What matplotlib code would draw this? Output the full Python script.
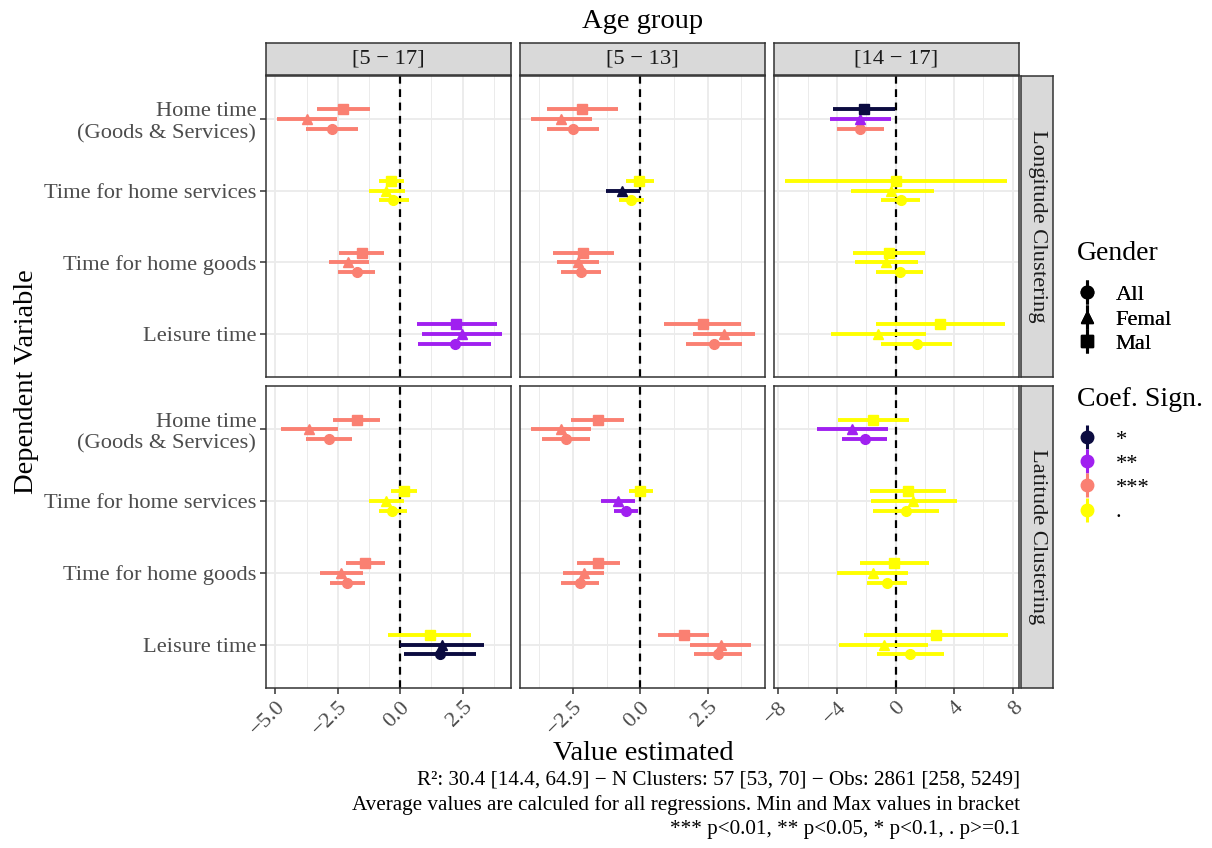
import matplotlib
matplotlib.use("Agg")
import matplotlib.pyplot as plt
from matplotlib.lines import Line2D

plt.rcParams["font.family"] = ["Liberation Serif", "DejaVu Serif"]

# categories, top to bottom as shown
categories = ["Home time\n(Goods & Services)", "Time for home services",
              "Time for home goods", "Leisure time"]
genders = ["All", "Femal", "Mal"]
age_groups = ["[5 \u2212 17]", "[5 \u2212 13]", "[14 \u2212 17]"]
clusterings = ["Longitude Clustering", "Latitude Clustering"]
sig_levels = ["*", "**", "***", "."]
sig_colors = {"*": "#0b0b40", "**": "#A020F0", "***": "#FA8072", ".": "#FFFF00"}
gender_markers = {"All": "o", "Femal": "^", "Mal": "s"}

# values per panel: rows = gender (All, Femal, Mal), columns = category
lon_5_17_est = [[-2.74, -0.27, -1.75, 2.18], [-3.75, -0.56, -2.09, 2.46], [-2.29, -0.37, -1.55, 2.25]]
lon_5_17_lo = [[-3.78, -0.87, -2.48, 0.71], [-4.95, -1.26, -2.85, 0.87], [-3.32, -0.87, -2.45, 0.66]]
lon_5_17_hi = [[-1.69, 0.35, -1.00, 3.64], [-2.54, 0.21, -1.24, 4.07], [-1.23, 0.17, -0.64, 3.88]]
lon_5_17_sig = [["***", ".", "***", "**"], ["***", ".", "***", "**"], ["***", ".", "***", "**"]]

lon_5_13_est = [[-2.50, -0.33, -2.21, 2.75], [-2.95, -0.68, -2.31, 3.10], [-2.15, -0.04, -2.12, 2.31]]
lon_5_13_lo = [[-3.46, -0.79, -2.96, 1.70], [-4.07, -1.26, -3.11, 1.95], [-3.48, -0.54, -3.25, 0.88]]
lon_5_13_hi = [[-1.52, 0.15, -1.47, 3.78], [-1.79, 0.00, -1.52, 4.26], [-0.83, 0.49, -0.98, 3.74]]
lon_5_13_sig = [["***", ".", "***", "***"], ["***", "*", "***", "***"], ["***", ".", "***", "***"]]

lon_14_17_est = [[-2.40, 0.36, 0.29, 1.47], [-2.45, -0.32, -0.68, -1.20], [-2.15, 0.00, -0.48, 3.06]]
lon_14_17_lo = [[-3.99, -1.00, -1.31, -0.98], [-4.49, -3.04, -2.77, -4.44], [-4.26, -7.55, -2.90, -1.34]]
lon_14_17_hi = [[-0.77, 1.70, 1.88, 3.88], [-0.32, 2.61, 1.50, 2.09], [-0.02, 7.64, 2.02, 7.46]]
lon_14_17_sig = [["***", ".", ".", "."], ["**", ".", ".", "."], ["*", ".", ".", "."]]

lat_5_17_est = [[-2.85, -0.31, -2.12, 1.61], [-3.64, -0.56, -2.37, 1.67], [-1.74, 0.16, -1.41, 1.18]]
lat_5_17_lo = [[-3.78, -0.86, -2.80, 0.16], [-4.79, -1.26, -3.21, 0.00], [-2.68, -0.37, -2.16, -0.48]]
lat_5_17_hi = [[-1.94, 0.27, -1.41, 3.05], [-2.48, 0.17, -1.50, 3.36], [-0.83, 0.67, -0.63, 2.84]]
lat_5_17_sig = [["***", ".", "***", "*"], ["***", ".", "***", "*"], ["***", ".", "***", "."]]

lat_5_13_est = [[-2.78, -0.52, -2.24, 2.88], [-2.95, -0.84, -2.11, 3.00], [-1.57, 0.00, -1.56, 1.62]]
lat_5_13_lo = [[-3.64, -0.98, -2.94, 1.99], [-4.06, -1.47, -2.87, 1.86], [-2.56, -0.43, -2.36, 0.65]]
lat_5_13_hi = [[-1.88, -0.07, -1.54, 3.78], [-1.84, -0.19, -1.35, 4.11], [-0.62, 0.46, -0.74, 2.56]]
lat_5_13_sig = [["***", "**", "***", "***"], ["***", "**", "***", "***"], ["***", ".", "***", "***"]]

lat_14_17_est = [[-2.09, 0.70, -0.59, 1.02], [-2.95, 1.22, -1.54, -0.80], [-1.52, 0.86, -0.09, 2.77]]
lat_14_17_lo = [[-3.63, -1.52, -1.95, -1.29], [-5.33, -1.68, -3.99, -3.83], [-3.92, -1.77, -2.40, -2.15]]
lat_14_17_hi = [[-0.59, 2.97, 0.79, 3.29], [-0.54, 4.20, 0.86, 2.22], [0.91, 3.47, 2.29, 7.71]]
lat_14_17_sig = [["**", ".", ".", "."], ["**", ".", ".", "."], [".", ".", ".", "."]]

panels = [
    [(lon_5_17_est, lon_5_17_lo, lon_5_17_hi, lon_5_17_sig),
     (lon_5_13_est, lon_5_13_lo, lon_5_13_hi, lon_5_13_sig),
     (lon_14_17_est, lon_14_17_lo, lon_14_17_hi, lon_14_17_sig)],
    [(lat_5_17_est, lat_5_17_lo, lat_5_17_hi, lat_5_17_sig),
     (lat_5_13_est, lat_5_13_lo, lat_5_13_hi, lat_5_13_sig),
     (lat_14_17_est, lat_14_17_lo, lat_14_17_hi, lat_14_17_sig)],
]

xlims = [(-5.38, 4.44), (-4.47, 4.63), (-8.3, 8.43)]
xticks = [[-5, -2.5, 0, 2.5], [-2.5, 0, 2.5], [-8, -4, 0, 4, 8]]
xminor = [[-3.75, -1.25, 1.25, 3.75], [-3.75, -1.25, 1.25, 3.75], [-6, -2, 2, 6]]
xfmt = ["{:.1f}", "{:.1f}", "{:.0f}"]

caption = ("R\u00b2: 30.4 [14.4, 64.9] \u2212 N Clusters: 57 [53, 70] \u2212 Obs: 2861 [258, 5249]\n"
           "Average values are calculed for all regressions. Min and Max values in bracket\n"
           "*** p<0.01, ** p<0.05, * p<0.1, . p>=0.1")

W, H = 1212, 848
fig = plt.figure(figsize=(W / 100, H / 100), dpi=100)

def fx(px):
    return px / W

def fy(py):
    return 1 - py / H

col_x = [266, 520, 774]
col_w = 245
row_y = [(76, 377), (386, 688)]
grey20 = "#333333"
grey30 = "#4D4D4D"
dodge = 0.133
fs = 16.2

ypos = [4, 3, 2, 1]
for r in range(2):
    for c in range(3):
        top, bot = row_y[r]
        ax = fig.add_axes([fx(col_x[c]), fy(bot), fx(col_w), (bot - top) / H])
        ax.set_xlim(*xlims[c])
        ax.set_ylim(0.4, 4.6)
        ax.set_xticks(xticks[c])
        ax.set_xticks(xminor[c], minor=True)
        ax.set_yticks(ypos)
        ax.grid(True, which="major", color="#EBEBEB", lw=1.3)
        ax.grid(True, which="minor", axis="x", color="#EBEBEB", lw=0.7)
        ax.set_axisbelow(True)
        for s in ax.spines.values():
            s.set_color(grey20)
            s.set_linewidth(1.1)
        ax.tick_params(which="minor", length=0)
        ax.tick_params(which="major", length=4, width=1.1, color=grey20,
                       labelcolor=grey30, labelsize=fs, pad=3)
        if c == 0:
            ax.set_yticklabels(categories)
        else:
            ax.tick_params(axis="y", length=0, labelleft=False)
        if r == 1:
            labs = [xfmt[c].format(v).replace("-", "\u2212") for v in xticks[c]]
            ax.set_xticklabels(labs, rotation=45, ha="right", rotation_mode="anchor")
        else:
            ax.tick_params(axis="x", length=0, labelbottom=False)

        ax.axvline(0, color="black", lw=1.6, ls=(0, (3.5, 2.5)), zorder=1)

        est, lo, hi, sig = panels[r][c]
        for g, gname in enumerate(genders):
            off = (g - 1) * dodge
            for k in range(len(categories)):
                col = sig_colors[sig[g][k]]
                yy = ypos[k] + off
                ax.hlines(yy, lo[g][k], hi[g][k], color=col, lw=2.8, zorder=3)
                ax.plot(est[g][k], yy, marker=gender_markers[gname], color=col,
                        ms=7.5 if gname != "All" else 7, mec=col, ls="none", zorder=4)

        # right strips
        if c == 2:
            sax = fig.add_axes([fx(1021), fy(bot), fx(32), (bot - top) / H])
            sax.set_facecolor("#D9D9D9")
            sax.set_xticks([])
            sax.set_yticks([])
            for s in sax.spines.values():
                s.set_color(grey20)
                s.set_linewidth(1.1)
            sax.text(0.5, 0.5, clusterings[r], rotation=270, ha="center", va="center",
                     fontsize=fs, color="#1A1A1A", transform=sax.transAxes)
        # top strips
        if r == 0:
            tax = fig.add_axes([fx(col_x[c]), fy(75), fx(col_w), 32 / H])
            tax.set_facecolor("#D9D9D9")
            tax.set_xticks([])
            tax.set_yticks([])
            for s in tax.spines.values():
                s.set_color(grey20)
                s.set_linewidth(1.1)
            tax.text(0.5, 0.5, age_groups[c], ha="center", va="center",
                     fontsize=fs, color="#1A1A1A", transform=tax.transAxes)

# axis titles
fig.text(fx(643), fy(21), "Age group", ha="center", va="center", fontsize=20.5)
fig.text(fx(643), fy(754), "Value estimated", ha="center", va="center", fontsize=20.5)
fig.text(fx(27), fy(382), "Dependent Variable", ha="center", va="center",
         rotation=90, fontsize=20.5)
fig.text(fx(1020), fy(770), caption, ha="right", va="top", fontsize=15.2,
         linespacing=1.38)

# legends
def key(marker, color):
    return (Line2D([], [], marker="|", color=color, ms=17, mew=2.2, ls="none"),
            Line2D([], [], marker=marker, color=color, ms=9, ls="none"))

fig.text(fx(1077), fy(253), "Gender", ha="left", va="center", fontsize=20)
g_handles = [key(gender_markers[g], "black") for g in genders]
leg1 = fig.legend(g_handles, genders, loc="upper left",
                  bbox_to_anchor=(fx(1064), fy(273)), frameon=False, fontsize=fs,
                  labelspacing=0.17, handletextpad=0.8, handlelength=1.0, borderpad=0)
fig.text(fx(1077), fy(400), "Coef. Sign.", ha="left", va="center", fontsize=20)
s_handles = [key("o", sig_colors[s]) for s in sig_levels]
leg2 = fig.legend(s_handles, sig_levels, loc="upper left",
                  bbox_to_anchor=(fx(1064), fy(418)), frameon=False, fontsize=fs,
                  labelspacing=0.15, handletextpad=0.8, handlelength=1.0, borderpad=0)
fig.add_artist(leg1)

fig.savefig("out.png", dpi=100)
